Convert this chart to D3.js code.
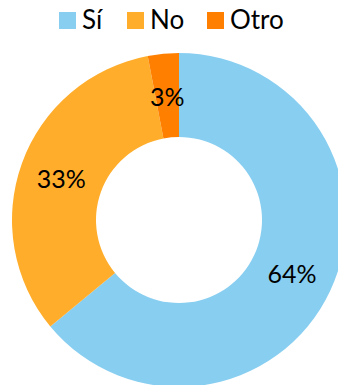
<!DOCTYPE html>
<html>
<head>
<meta charset="utf-8">
<script src="https://cdn.jsdelivr.net/npm/d3@7"></script>
<style>
  html, body { margin: 0; padding: 0; background: #fff; overflow: hidden; }
  svg { display: block; font-family: Lato, "Open Sans", sans-serif; }
</style>
</head>
<body>
<svg id="chart" width="338" height="385"></svg>
<script>
// Survey answers and their shares (%)
const categories = ["Sí", "No", "Otro"];
const values = [64, 33, 3];
const colors = ["#88CEF1", "#FFAD2B", "#FF8000"];

const svg = d3.select("#chart");
const cx = 179, cy = 220;
const outerR = 167, innerR = 83;

const color = d3.scaleOrdinal().domain(categories).range(colors);

const data = categories.map((c, i) => ({ name: c, value: values[i] }));

const pie = d3.pie().value(d => d.value).sort(null);
const arc = d3.arc().innerRadius(innerR).outerRadius(outerR);

const g = svg.append("g").attr("transform", `translate(${cx},${cy})`);

const arcs = pie(data);

g.selectAll("path")
  .data(arcs)
  .join("path")
  .attr("d", arc)
  .attr("fill", d => color(d.data.name));

g.selectAll("text.value")
  .data(arcs)
  .join("text")
  .attr("class", "value")
  .attr("transform", d => `translate(${arc.centroid(d)})`)
  .attr("text-anchor", "middle")
  .attr("dominant-baseline", "central")
  .attr("font-size", 25)
  .attr("fill", "#000")
  .text(d => d.data.value + "%");

// Legend across the top
const legendItems = [
  { x: 59, textX: 82 },
  { x: 127, textX: 150 },
  { x: 207, textX: 230 }
];
const legend = svg.append("g");
categories.forEach((c, i) => {
  legend.append("rect")
    .attr("x", legendItems[i].x)
    .attr("y", 12)
    .attr("width", 17)
    .attr("height", 17)
    .attr("fill", color(c));
  legend.append("text")
    .attr("x", legendItems[i].textX)
    .attr("y", 29)
    .attr("font-size", 26)
    .attr("fill", "#000")
    .text(c);
});
</script>
</body>
</html>
